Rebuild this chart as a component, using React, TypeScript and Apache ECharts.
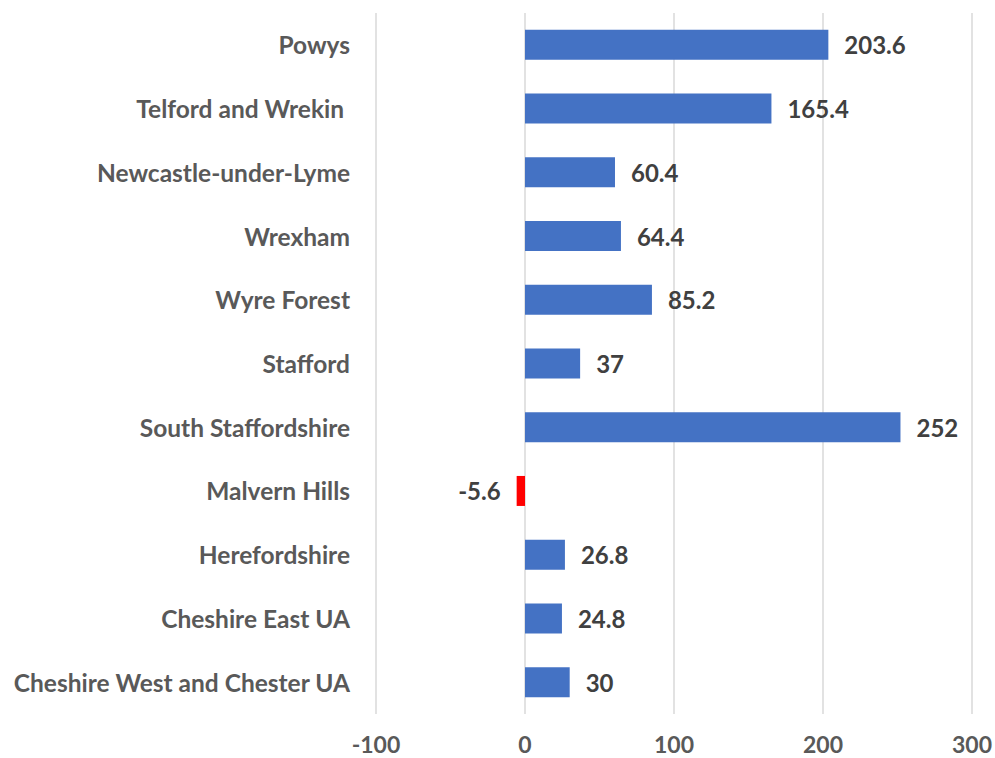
import React, { useEffect, useRef } from "react";
import * as echarts from "echarts";

const categories = [
  "Powys",
  "Telford and Wrekin ",
  "Newcastle-under-Lyme",
  "Wrexham",
  "Wyre Forest",
  "Stafford",
  "South Staffordshire",
  "Malvern Hills",
  "Herefordshire",
  "Cheshire East UA",
  "Cheshire West and Chester UA",
];
const values = [203.6, 165.4, 60.4, 64.4, 85.2, 37, 252, -5.6, 26.8, 24.8, 30];
const xTicks = [-100, 0, 100, 200, 300];

const FONT = "Lato, 'Open Sans', sans-serif";

export default function App() {
  const ref = useRef<HTMLDivElement>(null);
  useEffect(() => {
    if (!ref.current) return;
    const chart = echarts.init(ref.current, null, { renderer: "svg" });
    chart.setOption({
      animation: false,
      grid: { left: 376, right: 23, top: 13, bottom: 44, containLabel: false },
      xAxis: {
        type: "value",
        min: xTicks[0],
        max: xTicks[xTicks.length - 1],
        interval: 100,
        axisLine: { show: false },
        axisTick: { show: false },
        splitLine: { show: true, lineStyle: { color: "#d9d9d9", width: 1.5 } },
        axisLabel: {
          margin: 18,
          color: "#595959",
          fontFamily: FONT,
          fontWeight: "bold",
          fontSize: 23,
          lineHeight: 23,
        },
      },
      yAxis: {
        type: "category",
        inverse: true,
        data: categories,
        axisLine: { show: false },
        axisTick: { show: false },
        splitLine: { show: false },
        axisLabel: {
          margin: 26,
          color: "#595959",
          fontFamily: FONT,
          fontWeight: "bold",
          fontSize: 24.5,
        },
      },
      series: [
        {
          type: "bar",
          barWidth: 30,
          data: values.map((v) => ({
            value: v,
            itemStyle: { color: v < 0 ? "#ff0000" : "#4472c4" },
            label: { position: v < 0 ? "left" : "right" },
          })),
          label: {
            show: true,
            distance: 16,
            color: "#404040",
            fontFamily: FONT,
            fontWeight: "bold",
            fontSize: 24,
          },
        },
      ],
    });
    return () => chart.dispose();
  }, []);
  return (
    <div
      ref={ref}
      style={{ position: "fixed", left: 0, top: 0, width: 995, height: 758, background: "#fff" }}
    />
  );
}
